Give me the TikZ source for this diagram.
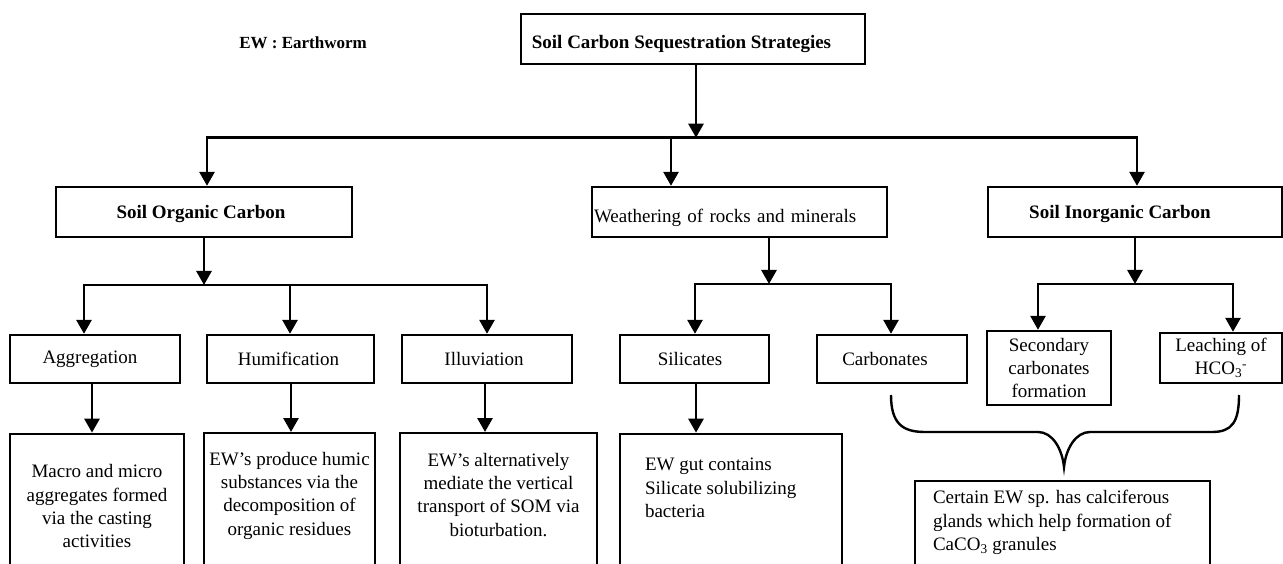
\documentclass[tikz,border=0pt]{standalone}
\usepackage{fontspec}
\setmainfont{Liberation Serif}
\usetikzlibrary{arrows.meta}
\newcommand\lowered[2]{\raisebox{-#1}[\height][\depth]{#2}}
\begin{document}
\begin{tikzpicture}[x=1pt,y=-1pt,
  >={Triangle[length=14pt,width=15pt]},
  txt/.style={font=\fontsize{19}{23.3}\selectfont},
  btxt/.style={font=\fontsize{19}{23.3}\selectfont\bfseries},
  box/.style={draw, line width=2.4pt, rectangle, inner sep=0pt},
  wire/.style={line width=2.8pt},
  arr/.style={wire, ->},
  dbl/.style={wire, <->},
  desc/.style={draw, line width=2.4pt, rectangle, inner sep=0pt, anchor=north, txt}]
\useasboundingbox (0,0) rectangle (1283,564);
\clip (0,0) rectangle (1283,564);
\fill[white] (0,0) rectangle (1283,564);

% top
\node[font=\fontsize{17}{20}\selectfont\bfseries] (ew) at (303,43) {EW : Earthworm};
\node[box, btxt, minimum width=344pt, minimum height=50pt] (title) at (693,39) {\lowered{5pt}{Soil Carbon Sequestration Strategies}\hspace*{23pt}};

% level 1
\node[box, btxt, minimum width=296pt, minimum height=50pt] (soc) at (204,212) {\lowered{2pt}{Soil Organic Carbon}\hspace*{6pt}};
\node[box, txt, minimum width=295pt, minimum height=50pt, text width=291pt, align=left] (weath) at (739.5,212) {\lowered{6pt}{Weathering of rocks and minerals}};
\node[box, btxt, minimum width=294pt, minimum height=50pt] (sic) at (1135,212) {\lowered{2pt}{Soil Inorganic Carbon}\hspace*{30pt}};

% level 2
\node[box, txt, minimum width=170pt, minimum height=48pt] (agg) at (95,359) {Aggregation\hspace*{10pt}};
\node[box, txt, minimum width=167pt, minimum height=48pt] (hum) at (290.5,359) {Humification\hspace*{4pt}};
\node[box, txt, minimum width=170pt, minimum height=48pt] (ill) at (487,359) {Illuviation\hspace*{6pt}};
\node[box, txt, minimum width=149pt, minimum height=48pt] (sil) at (694.5,359) {Silicates\hspace*{9pt}};
\node[box, txt, minimum width=149.5pt, minimum height=48pt] (carb) at (892,359) {Carbonates\hspace*{14pt}};
\node[box, txt, minimum width=124.5pt, minimum height=74pt, align=center] (sec) at (1049,368) {Secondary\\carbonates\\formation};
\node[box, txt, minimum width=122pt, minimum height=50pt, align=center] (leach) at (1221,358) {Leaching of\\HCO\textsubscript{3}\textsuperscript{-}};

% level 3
\node[desc] (macro) at (97,432.7) {\parbox[c][150pt][t]{174pt}{\centering\rule{0pt}{44pt}Macro and micro\\aggregates formed\\via the casting\\activities}};
\node[desc] (humic) at (289.5,432) {\parbox[c][150pt][t]{171pt}{\centering\rule{0pt}{32pt}EW’s produce humic\\substances via the\\decomposition of\\organic residues}};
\node[desc] (illuv) at (498.5,432) {\parbox[c][150pt][t]{197pt}{\centering\rule{0pt}{33pt}EW’s alternatively\\mediate the vertical\\transport of SOM via\\bioturbation.}};
\node[desc] (silic) at (731,432.7) {\parbox[c][150pt][t]{222pt}{\raggedright\leftskip=25pt\rule{0pt}{37pt}EW gut contains\\Silicate solubilizing\\bacteria}};
\node[desc] (certain) at (1062.5,480) {\parbox[c][150pt][t]{295pt}{\raggedright\leftskip=18pt\rule{0pt}{22.5pt}Certain EW sp. has calciferous\\glands which help formation of\\CaCO\textsubscript{3} granules}};

% connectors level 0 -> 1
\coordinate (j0) at (696,137.7);
\coordinate (b0l) at (207,137.7);
\coordinate (b0m) at (671,137.7);
\coordinate (b0r) at (1137,137.7);
\draw[arr] (title.south -| j0) -- (j0);
\draw[dbl] (b0l |- soc.north) -- (b0l) -- (b0r) -- (b0r |- sic.north);
\draw[arr] (b0m) -- (b0m |- weath.north);

% SOC
\coordinate (j1) at (204,285);
\coordinate (b1l) at (84,285);
\coordinate (b1m) at (290,285);
\coordinate (b1r) at (487,285);
\draw[arr] (soc.south -| j1) -- (j1);
\draw[dbl] (b1l |- agg.north) -- (b1l) -- (b1r) -- (b1r |- ill.north);
\draw[arr] (b1m) -- (b1m |- hum.north);

% Weathering
\coordinate (j2) at (769,284);
\coordinate (b2l) at (695,284);
\coordinate (b2r) at (891,284);
\draw[arr] (weath.south -| j2) -- (j2);
\draw[dbl] (b2l |- sil.north) -- (b2l) -- (b2r) -- (b2r |- carb.north);

% SIC
\coordinate (j3) at (1135,284);
\coordinate (b3l) at (1038,284);
\coordinate (b3r) at (1233,284);
\draw[arr] (sic.south -| j3) -- (j3);
\draw[dbl] (b3l |- sec.north) -- (b3l) -- (b3r) -- (b3r |- leach.north);

% level 2 -> 3
\coordinate (x1) at (92,0);
\coordinate (x2) at (291,0);
\coordinate (x3) at (485,0);
\coordinate (x4) at (696,0);
\draw[arr] (agg.south -| x1) -- (macro.north -| x1);
\draw[arr] (hum.south -| x2) -- (humic.north -| x2);
\draw[arr] (ill.south -| x3) -- (illuv.north -| x3);
\draw[arr] (sil.south -| x4) -- (silic.north -| x4);

% brace
\draw[line width=2.4pt] (891,395) .. controls (891,424) and (903,432) .. (925,432) -- (1038,432)
  .. controls (1052,432) and (1062,448) .. (1064,467)
  .. controls (1066,448) and (1076,432) .. (1090,432) -- (1212,432)
  .. controls (1232,432) and (1239,422) .. (1239,395);
\end{tikzpicture}
\end{document}
